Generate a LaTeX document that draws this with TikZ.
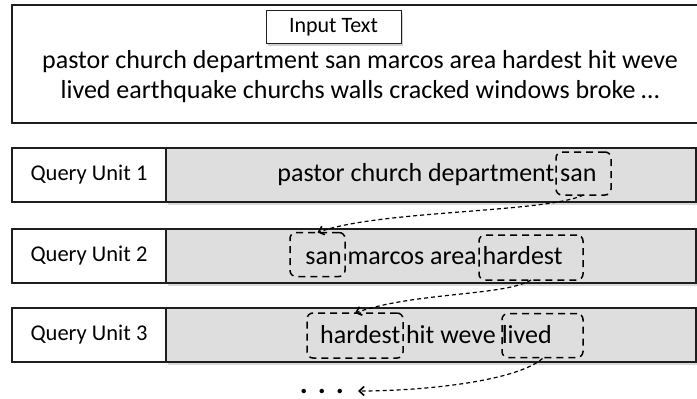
\documentclass[tikz,border=0pt]{standalone}
\usepackage{fontspec}
\setmainfont{Carlito}
\usetikzlibrary{arrows.meta,shadows}

\definecolor{unitgray}{HTML}{DEDEDE}
\definecolor{edge}{HTML}{1E1E1E}

\begin{document}
\begin{tikzpicture}[x=1pt, y=-1pt,
  every node/.style={inner sep=0pt, outer sep=0pt},
  panel/.style={draw=edge, line width=1.3pt, fill=white},
  titlebox/.style={draw=edge, line width=1pt, fill=white,
    drop shadow={shadow xshift=1.5pt, shadow yshift=-2pt, opacity=0.35},
    font=\fontsize{22}{26}\selectfont},
  unitlabel/.style={draw=edge, line width=1.3pt, fill=white, anchor=north west,
    minimum width=154pt, minimum height=54pt, font=\fontsize{22.5}{26}\selectfont},
  unitbody/.style={draw=edge, line width=1.3pt, fill=unitgray, anchor=north west,
    minimum width=530pt, minimum height=54pt,
    drop shadow={shadow xshift=1.5pt, shadow yshift=-2.5pt, opacity=0.3}},
  bigtext/.style={font=\fontsize{26}{30}\selectfont},
  wordbox/.style={draw=black, line width=1.5pt, rounded corners=6pt,
    dash pattern=on 7pt off 5pt},
  carry/.style={draw=black, line width=1.2pt, dash pattern=on 4pt off 3pt,
    -{Straight Barb[length=5pt, width=9pt, line width=1.6pt]}}
]
\useasboundingbox (0,0) rectangle (697,399);

% input panel
\node[panel, anchor=north west, minimum width=700pt, minimum height=118pt] (panel) at (12,5) {};
\node[titlebox, minimum width=135pt, minimum height=33pt] (title) at (333.5,27) {Input Text};
\node[bigtext, align=center] (source) at (360,77)
  {pastor church department san marcos area hardest hit weve\\
   lived earthquake churchs walls cracked windows broke \dots};

% query units
\node[unitlabel] (q1) at (12,148) {Query Unit 1};
\node[unitbody]  (u1) at (166,148) {};
\node[unitlabel] (q2) at (12,229) {Query Unit 2};
\node[unitbody]  (u2) at (166,229) {};
\node[unitlabel] (q3) at (12,308) {Query Unit 3};
\node[unitbody]  (u3) at (166,308) {};

\node[bigtext] (t1) at (437,175) {pastor church department san};
\node[bigtext] (t2) at (434,256) {san marcos area hardest};
\node[bigtext] (t3) at (436,335) {hardest hit weve lived};

% overlapping words
\node[wordbox, minimum width=55pt, minimum height=43pt] (b1)  at (583.5,173.5) {};
\node[wordbox, minimum width=55pt, minimum height=44pt] (b2a) at (317.5,254.5) {};
\node[wordbox, minimum width=104pt, minimum height=45pt] (b2b) at (531,257.5) {};
\node[wordbox, minimum width=96pt, minimum height=45pt] (b3a) at (355,335.5) {};
\node[wordbox, minimum width=81pt, minimum height=44pt] (b3b) at (542.5,335.5) {};

% continuation marks
\node[minimum width=72pt, font=\fontsize{30}{30}\selectfont\bfseries] (dots) at (322,391) {.\,\,.\,\,.};

% carried-over words
\draw[carry] (b1.south) .. controls (545,213) and (380,210) .. (b2a.north);
\draw[carry] (b2b.south) .. controls (505,296) and (415,292) .. (b3a.north);
\draw[carry] ([yshift=-1pt]b3b.south) .. controls (515,382) and (420,391) .. (dots.east);
\end{tikzpicture}
\end{document}
